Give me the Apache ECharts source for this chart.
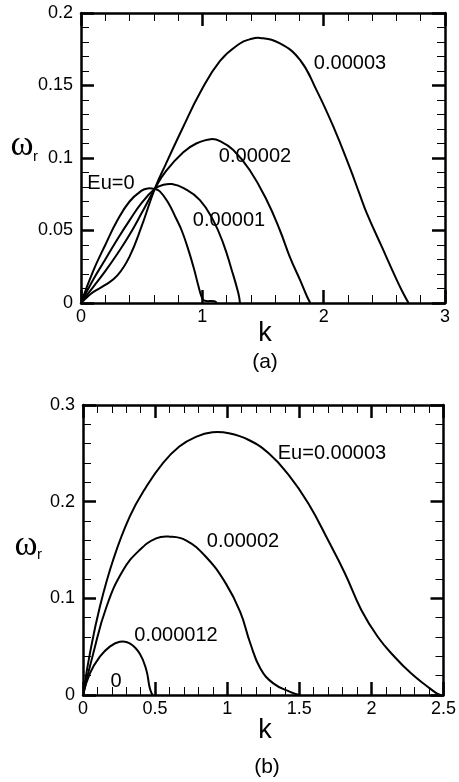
<!DOCTYPE html>
<html>
<head>
<meta charset="utf-8">
<script src="https://cdn.jsdelivr.net/npm/echarts@6/dist/echarts.min.js"></script>
<style>
html,body{margin:0;padding:0;background:#fff;}
#chart{width:459px;height:782px;}
</style>
</head>
<body>
<div id="chart"></div>
<script>
// ---- Panel (a) data ----
const aXTicks = [0, 1, 2, 3];
const aYTicks = [0, 0.05, 0.1, 0.15, 0.2];
const aK_Eu0 = [0, 0.1, 0.2, 0.3, 0.4, 0.5, 0.55, 0.607, 0.65, 0.72, 0.78, 0.83, 0.88, 0.93, 0.97, 1.0, 1.02, 1.1, 1.12];
const aW_Eu0 = [0, 0.022, 0.040, 0.057, 0.070, 0.0775, 0.079, 0.0786, 0.077, 0.069, 0.059, 0.050, 0.038, 0.024, 0.011, 0.003, 0.0015, 0.0012, 0];
const aK_1 = [0, 0.1, 0.2, 0.3, 0.4, 0.5, 0.607, 0.68, 0.75, 0.85, 0.98, 1.09, 1.173, 1.242, 1.297, 1.31];
const aW_1 = [0, 0.016, 0.030, 0.044, 0.057, 0.069, 0.0786, 0.0815, 0.082, 0.079, 0.071, 0.057, 0.041, 0.0228, 0.0067, 0];
const aK_2 = [0, 0.1, 0.2, 0.3, 0.4, 0.5, 0.607, 0.7, 0.843, 0.95, 1.07, 1.15, 1.255, 1.39, 1.53, 1.64, 1.72, 1.805, 1.86, 1.89];
const aW_2 = [0, 0.011, 0.022, 0.034, 0.047, 0.062, 0.0786, 0.091, 0.104, 0.110, 0.113, 0.1115, 0.1055, 0.0917, 0.071, 0.050, 0.032, 0.0159, 0.005, 0];
const aK_3 = [0, 0.05, 0.1, 0.2, 0.3, 0.4, 0.5, 0.607, 0.7, 0.84, 0.98, 1.146, 1.31, 1.39, 1.476, 1.64, 1.805, 1.94, 2.08, 2.217, 2.294, 2.355, 2.478, 2.602, 2.66, 2.70];
const aW_3 = [0, 0.004, 0.0075, 0.0125, 0.019, 0.032, 0.053, 0.0786, 0.096, 0.121, 0.1448, 0.167, 0.179, 0.1818, 0.1828, 0.179, 0.1676, 0.147, 0.1216, 0.093, 0.0756, 0.062, 0.039, 0.016, 0.006, 0];
const aLabels = ['Eu=0', '0.00001', '0.00002', '0.00003'];

// ---- Panel (b) data ----
const bXTicks = [0, 0.5, 1, 1.5, 2, 2.5];
const bYTicks = [0, 0.1, 0.2, 0.3];
const bK_3 = [0, 0.048, 0.117, 0.209, 0.324, 0.439, 0.553, 0.668, 0.783, 0.897, 1.012, 1.15, 1.288, 1.426, 1.563, 1.70, 1.816, 1.93, 2.045, 2.16, 2.275, 2.39, 2.45, 2.48];
const bW_3 = [0, 0.043, 0.0913, 0.1397, 0.1845, 0.2155, 0.2397, 0.257, 0.267, 0.2717, 0.2707, 0.2638, 0.25, 0.2276, 0.198, 0.160, 0.126, 0.088, 0.060, 0.0396, 0.0224, 0.0086, 0.002, 0];
const bK_2 = [0, 0.071, 0.163, 0.278, 0.393, 0.507, 0.599, 0.714, 0.852, 0.99, 1.09, 1.16, 1.23, 1.32, 1.44, 1.5];
const bW_2 = [0, 0.043, 0.0913, 0.129, 0.15, 0.162, 0.1638, 0.160, 0.143, 0.1155, 0.086, 0.0535, 0.0275, 0.012, 0.003, 0];
const bK_12 = [0, 0.048, 0.117, 0.186, 0.255, 0.324, 0.393, 0.439, 0.461, 0.475, 0.484];
const bW_12 = [0, 0.0224, 0.0396, 0.05, 0.0551, 0.0535, 0.043, 0.0259, 0.0086, 0.002, 0];
const bLabels = ['Eu=0.00003', '0.00002', '0.000012', '0'];

function pairs(ks, ws) { return ks.map((k, i) => [k, ws[i]]); }

const FONT = '"Liberation Sans", Arial, sans-serif';
const SERIF = '"Liberation Serif", "DejaVu Serif", serif';

function axisCommon(ticks, showLabel, pos, gridIndex, margin) {
  return {
    type: 'value', gridIndex: gridIndex, position: pos,
    min: ticks[0], max: ticks[ticks.length - 1], interval: ticks[1] - ticks[0],
    axisLine: { show: true, onZero: false, lineStyle: { color: '#000', width: 2.5 } },
    axisTick: { show: true, inside: true, length: 13, lineStyle: { color: '#000', width: 2.5 } },
    minorTick: { show: true, splitNumber: 5, length: 8, lineStyle: { color: '#000', width: 1 } },
    splitLine: { show: false },
    axisLabel: { show: showLabel, color: '#000', fontSize: 18, fontFamily: FONT, margin: margin,
      formatter: v => String(+v.toFixed(4)) }
  };
}

// Smooth curve through the read points, positioned with the axes' own scales (api.coord)
function curve(data, xi, yi) {
  return {
    type: 'custom', coordinateSystem: 'cartesian2d', xAxisIndex: xi, yAxisIndex: yi,
    data: data, encode: { x: 0, y: 1 }, silent: true, clip: true,
    renderItem: function (params, api) {
      if (params.dataIndex !== 0) return null;
      const pts = data.map(p => api.coord(p));
      return { type: 'polyline', shape: { points: pts, smooth: 0.45 },
        style: { stroke: '#000', lineWidth: 2, fill: null, lineJoin: 'round' } };
    }
  };
}

function txt(s, x, y, size, family, align) {
  return { type: 'text', x: x, y: y, silent: true,
    style: { text: s, fontSize: size, fontFamily: family || FONT, fill: '#000',
      textAlign: align || 'center', textVerticalAlign: 'middle' } };
}

const chart = echarts.init(document.getElementById('chart'), null, { renderer: 'canvas' });
chart.setOption({
  animation: false,
  backgroundColor: '#fff',
  grid: [
    { left: 81, top: 13, width: 364, height: 290 },
    { left: 83, top: 405, width: 363, height: 290 }
  ],
  xAxis: [
    axisCommon(aXTicks, true, 'bottom', 0, 5),
    axisCommon(aXTicks, false, 'top', 0, 5),
    axisCommon(bXTicks, true, 'bottom', 1, 5),
    axisCommon(bXTicks, false, 'top', 1, 5)
  ],
  yAxis: [
    axisCommon(aYTicks, true, 'left', 0, 8),
    axisCommon(aYTicks, false, 'right', 0, 8),
    axisCommon(bYTicks, true, 'left', 1, 8),
    axisCommon(bYTicks, false, 'right', 1, 8)
  ],
  series: [
    curve(pairs(aK_Eu0, aW_Eu0), 0, 0),
    curve(pairs(aK_1, aW_1), 0, 0),
    curve(pairs(aK_2, aW_2), 0, 0),
    curve(pairs(aK_3, aW_3), 0, 0),
    curve(pairs(bK_3, bW_3), 2, 2),
    curve(pairs(bK_2, bW_2), 2, 2),
    curve(pairs(bK_12, bW_12), 2, 2)
  ],
  graphic: [
    txt(aLabels[0], 111, 183, 20),
    txt(aLabels[1], 229, 220, 20),
    txt(aLabels[2], 255, 156, 20),
    txt(aLabels[3], 350, 63, 20),
    txt(bLabels[0], 332, 453, 20),
    txt(bLabels[1], 243, 541, 20),
    txt(bLabels[2], 176, 635, 20),
    txt(bLabels[3], 116, 681, 20),
    txt('k', 265, 334, 27),
    txt('(a)', 265, 362, 21),
    txt('k', 265, 731, 27),
    txt('(b)', 267, 767, 21),
    txt('ω', 22, 146, 35, SERIF),
    txt('r', 33, 157, 15, FONT, 'left'),
    txt('ω', 26, 546, 35, SERIF),
    txt('r', 37, 555, 15, FONT, 'left')
  ]
});
</script>
</body>
</html>
